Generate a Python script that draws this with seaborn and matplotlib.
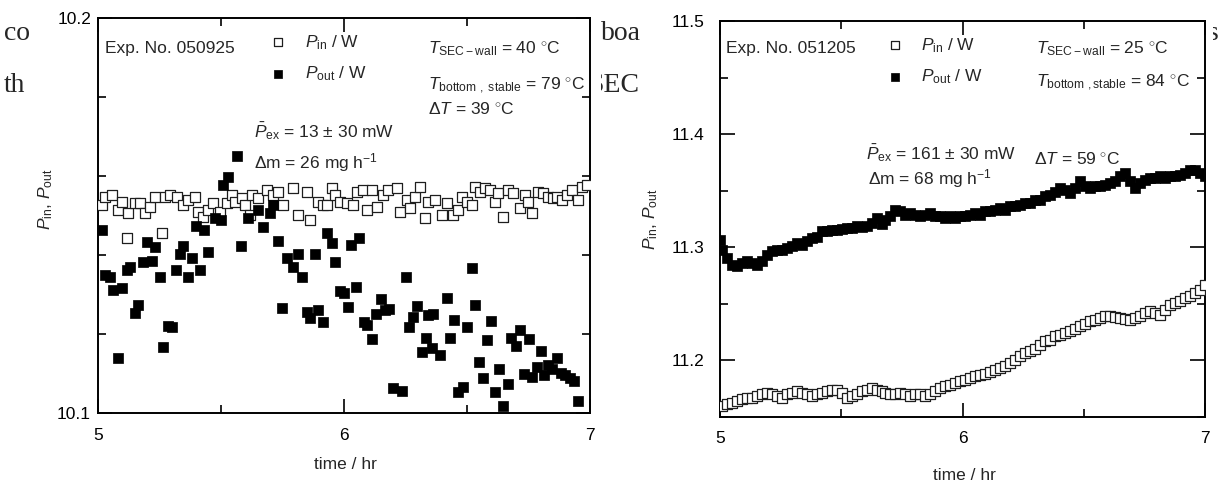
import matplotlib
matplotlib.use("Agg")

import matplotlib.pyplot as plt
import seaborn as sns
from matplotlib.ticker import MultipleLocator, FormatStrFormatter
from matplotlib.transforms import Bbox

# -------------------------
# DATA : Exp. No. 050925 (left)
# -------------------------
t_in_a = [5.015, 5.028, 5.056, 5.083, 5.096, 5.117, 5.123, 5.150, 5.171, 5.191,
          5.211, 5.232, 5.260, 5.272, 5.293, 5.320, 5.347, 5.367, 5.394, 5.408,
          5.428, 5.448, 5.469, 5.496, 5.523, 5.543, 5.557, 5.584, 5.598, 5.618,
          5.625, 5.652, 5.686, 5.713, 5.733, 5.753, 5.794, 5.814, 5.848, 5.862,
          5.896, 5.916, 5.930, 5.950, 5.963, 5.984, 6.011, 6.038, 6.052, 6.079,
          6.093, 6.113, 6.133, 6.160, 6.180, 6.214, 6.228, 6.255, 6.268, 6.289,
          6.309, 6.329, 6.343, 6.370, 6.397, 6.417, 6.444, 6.465, 6.478, 6.499,
          6.519, 6.533, 6.553, 6.573, 6.593, 6.614, 6.627, 6.648, 6.668, 6.688,
          6.715, 6.736, 6.749, 6.763, 6.790, 6.810, 6.830, 6.851, 6.865, 6.885,
          6.905, 6.926, 6.953, 6.967, 6.988]
p_in_a = [10.1527, 10.1548, 10.1552, 10.1514, 10.1535, 10.1442, 10.1507, 10.1531, 10.1531, 10.1506,
          10.1521, 10.1548, 10.1455, 10.1548, 10.1552, 10.1548, 10.1527, 10.1539, 10.1548, 10.1510,
          10.1497, 10.1514, 10.1531, 10.1510, 10.1531, 10.1552, 10.1535, 10.1544, 10.1527, 10.1501,
          10.1552, 10.1544, 10.1565, 10.1552, 10.1560, 10.1527, 10.1569, 10.1501, 10.1560, 10.1489,
          10.1535, 10.1527, 10.1527, 10.1569, 10.1552, 10.1535, 10.1531, 10.1527, 10.1560, 10.1565,
          10.1514, 10.1565, 10.1522, 10.1552, 10.1565, 10.1569, 10.1510, 10.1539, 10.1518, 10.1548,
          10.1573, 10.1493, 10.1535, 10.1539, 10.1501, 10.1531, 10.1501, 10.1514, 10.1548, 10.1535,
          10.1527, 10.1573, 10.1560, 10.1569, 10.1565, 10.1535, 10.1556, 10.1497, 10.1565, 10.1556,
          10.1518, 10.1552, 10.1535, 10.1506, 10.1560, 10.1556, 10.1548, 10.1544, 10.1548, 10.1539,
          10.1552, 10.1565, 10.1539, 10.1573, 10.1577]

t_out_a = [5.015, 5.028, 5.049, 5.062, 5.083, 5.096, 5.117, 5.130, 5.150, 5.163,
           5.183, 5.198, 5.218, 5.232, 5.252, 5.265, 5.283, 5.302, 5.316, 5.333,
           5.347, 5.365, 5.381, 5.397, 5.415, 5.431, 5.448, 5.476, 5.500, 5.509,
           5.530, 5.564, 5.581, 5.611, 5.652, 5.672, 5.699, 5.713, 5.733, 5.749,
           5.767, 5.794, 5.814, 5.830, 5.848, 5.862, 5.882, 5.896, 5.916, 5.930,
           5.950, 5.963, 5.984, 6.000, 6.017, 6.028, 6.049, 6.062, 6.081, 6.095,
           6.115, 6.130, 6.149, 6.167, 6.184, 6.198, 6.235, 6.251, 6.264, 6.282,
           6.296, 6.318, 6.332, 6.343, 6.357, 6.363, 6.390, 6.417, 6.431, 6.448,
           6.465, 6.485, 6.499, 6.519, 6.533, 6.549, 6.564, 6.580, 6.596, 6.614,
           6.630, 6.648, 6.665, 6.679, 6.698, 6.715, 6.733, 6.752, 6.765, 6.783,
           6.800, 6.814, 6.830, 6.847, 6.865, 6.882, 6.898, 6.919, 6.935, 6.950]
p_out_a = [10.1463, 10.1349, 10.1345, 10.1311, 10.1139, 10.1316, 10.1362, 10.1370, 10.1253, 10.1273,
           10.1382, 10.1434, 10.1385, 10.1421, 10.1344, 10.1168, 10.1221, 10.1217, 10.1362, 10.1402,
           10.1424, 10.1344, 10.1393, 10.1474, 10.1362, 10.1463, 10.1408, 10.1493, 10.1489, 10.1577,
           10.1598, 10.1651, 10.1423, 10.1493, 10.1514, 10.1470, 10.1506, 10.1527, 10.1436, 10.1265,
           10.1393, 10.1370, 10.1403, 10.1345, 10.1256, 10.1240, 10.1403, 10.1261, 10.1231, 10.1455,
           10.1431, 10.1382, 10.1309, 10.1303, 10.1269, 10.1425, 10.1320, 10.1444, 10.1230, 10.1223,
           10.1187, 10.1251, 10.1288, 10.1261, 10.1263, 10.1063, 10.1056, 10.1345, 10.1217, 10.1242,
           10.1271, 10.1155, 10.1189, 10.1248, 10.1164, 10.1251, 10.1147, 10.1290, 10.1189, 10.1235,
           10.1054, 10.1067, 10.1217, 10.1366, 10.1273, 10.1130, 10.1089, 10.1185, 10.1233, 10.1052,
           10.1111, 10.1018, 10.1073, 10.1189, 10.1170, 10.1210, 10.1099, 10.1187, 10.1092, 10.1116,
           10.1158, 10.1096, 10.1122, 10.1111, 10.1139, 10.1102, 10.1096, 10.1088, 10.1082, 10.1031]

# -------------------------
# DATA : Exp. No. 051205 (right)
# -------------------------
t_in_b = [5.007, 5.027, 5.048, 5.069, 5.089, 5.110, 5.131, 5.151, 5.172, 5.193,
          5.213, 5.234, 5.254, 5.275, 5.296, 5.316, 5.337, 5.357, 5.378, 5.399,
          5.419, 5.440, 5.461, 5.481, 5.502, 5.522, 5.543, 5.564, 5.584, 5.605,
          5.626, 5.646, 5.667, 5.680, 5.701, 5.722, 5.742, 5.763, 5.784, 5.804,
          5.825, 5.845, 5.866, 5.887, 5.907, 5.928, 5.948, 5.969, 5.990, 6.010,
          6.031, 6.052, 6.072, 6.093, 6.113, 6.134, 6.155, 6.175, 6.196, 6.216,
          6.237, 6.258, 6.278, 6.299, 6.320, 6.340, 6.361, 6.381, 6.402, 6.423,
          6.443, 6.464, 6.485, 6.505, 6.526, 6.546, 6.567, 6.588, 6.608, 6.629,
          6.649, 6.670, 6.691, 6.711, 6.732, 6.753, 6.773, 6.794, 6.814, 6.835,
          6.856, 6.876, 6.897, 6.918, 6.938, 6.959, 6.979, 7.000]
p_in_b = [11.1596, 11.1611, 11.1626, 11.1640, 11.1655, 11.1670, 11.1670, 11.1684, 11.1699, 11.1714,
          11.1699, 11.1684, 11.1670, 11.1699, 11.1714, 11.1728, 11.1714, 11.1699, 11.1684, 11.1699,
          11.1714, 11.1728, 11.1743, 11.1743, 11.1714, 11.1670, 11.1684, 11.1699, 11.1728, 11.1743,
          11.1758, 11.1743, 11.1728, 11.1714, 11.1699, 11.1699, 11.1714, 11.1699, 11.1684, 11.1699,
          11.1699, 11.1684, 11.1699, 11.1728, 11.1758, 11.1772, 11.1787, 11.1802, 11.1816, 11.1831,
          11.1846, 11.1861, 11.1867, 11.1876, 11.1896, 11.1914, 11.1935, 11.1955, 11.1979, 11.2008,
          11.2037, 11.2067, 11.2081, 11.2102, 11.2140, 11.2169, 11.2184, 11.2214, 11.2229, 11.2244,
          11.2258, 11.2279, 11.2302, 11.2326, 11.2346, 11.2361, 11.2376, 11.2390, 11.2390, 11.2385,
          11.2376, 11.2367, 11.2355, 11.2376, 11.2390, 11.2420, 11.2434, 11.2420, 11.2405, 11.2449,
          11.2493, 11.2508, 11.2523, 11.2553, 11.2567, 11.2597, 11.2626, 11.2670]

t_out_b = [5.000, 5.007, 5.027, 5.048, 5.069, 5.089, 5.110, 5.131, 5.151, 5.172,
           5.193, 5.213, 5.234, 5.254, 5.275, 5.296, 5.316, 5.337, 5.357, 5.378,
           5.399, 5.419, 5.440, 5.461, 5.481, 5.502, 5.522, 5.543, 5.564, 5.584,
           5.605, 5.626, 5.646, 5.667, 5.680, 5.701, 5.722, 5.742, 5.763, 5.784,
           5.804, 5.825, 5.845, 5.866, 5.887, 5.907, 5.928, 5.948, 5.969, 5.990,
           6.010, 6.031, 6.052, 6.072, 6.093, 6.113, 6.134, 6.155, 6.175, 6.196,
           6.216, 6.237, 6.258, 6.278, 6.299, 6.320, 6.340, 6.361, 6.381, 6.402,
           6.423, 6.443, 6.464, 6.485, 6.505, 6.526, 6.546, 6.567, 6.588, 6.608,
           6.629, 6.649, 6.670, 6.691, 6.711, 6.732, 6.753, 6.773, 6.794, 6.814,
           6.835, 6.856, 6.876, 6.897, 6.918, 6.938, 6.959, 6.979, 7.000]
p_out_b = [11.3067, 11.2979, 11.2905, 11.2846, 11.2832, 11.2861, 11.2876, 11.2861, 11.2846, 11.2876,
           11.2935, 11.2964, 11.2979, 11.2979, 11.2994, 11.3008, 11.3038, 11.3023, 11.3052, 11.3082,
           11.3091, 11.3140, 11.3140, 11.3155, 11.3155, 11.3164, 11.3170, 11.3170, 11.3191, 11.3179,
           11.3191, 11.3214, 11.3259, 11.3208, 11.3244, 11.3273, 11.3332, 11.3317, 11.3288, 11.3303,
           11.3288, 11.3273, 11.3288, 11.3303, 11.3273, 11.3273, 11.3259, 11.3273, 11.3259, 11.3273,
           11.3273, 11.3288, 11.3303, 11.3288, 11.3317, 11.3317, 11.3332, 11.3347, 11.3332, 11.3361,
           11.3361, 11.3376, 11.3391, 11.3391, 11.3420, 11.3420, 11.3449, 11.3464, 11.3493, 11.3523,
           11.3508, 11.3479, 11.3523, 11.3582, 11.3538, 11.3523, 11.3538, 11.3538, 11.3553, 11.3568,
           11.3582, 11.3626, 11.3656, 11.3582, 11.3523, 11.3568, 11.3597, 11.3612, 11.3612, 11.3626,
           11.3612, 11.3626, 11.3626, 11.3641, 11.3656, 11.3685, 11.3685, 11.3656, 11.3626]

W, H = 1224, 493

sns.set_style("ticks")
plt.rcParams["font.family"] = ["Liberation Sans", "DejaVu Sans"]
plt.rcParams["mathtext.fontset"] = "custom"
plt.rcParams["mathtext.rm"] = "Liberation Sans"
plt.rcParams["mathtext.it"] = "Liberation Sans:italic"
plt.rcParams["mathtext.bf"] = "Liberation Sans:bold"

fig = plt.figure(figsize=(W / 100, H / 100), dpi=100)
fig.patch.set_facecolor("white")


def frag(x, y, s, x_from=None, x_to=None):
    # bits of the page text that peek out round the figures
    t = fig.text(x / W, 1 - y / H, s, family="Liberation Serif",
                 fontsize=20, va="baseline", ha="left")
    if x_from is not None:
        t.set_clip_box(Bbox.from_extents(x_from, 0, x_to, H))
        t.set_clip_on(True)


frag(4, 40, "co")
frag(4, 92, "th")
frag(601, 40, "boa", 601, 640)
frag(588, 92, "SEC", 601, 640)
frag(1208, 40, "s", 1213, 1224)

ax1 = fig.add_axes([98 / W, 1 - 413 / H, 492 / W, 395 / H])
ax2 = fig.add_axes([720 / W, 1 - 417 / H, 485 / W, 396 / H])


def style_axes(ax, ylim, yminor, ymajor_len, ypad, xpad):
    ax.set_xlim(5, 7)
    ax.set_ylim(*ylim)
    ax.xaxis.set_major_locator(MultipleLocator(1))
    ax.xaxis.set_minor_locator(MultipleLocator(0.5))
    ax.yaxis.set_major_locator(MultipleLocator(0.1))
    ax.yaxis.set_minor_locator(MultipleLocator(yminor))
    ax.xaxis.set_major_formatter(FormatStrFormatter("%d"))
    ax.yaxis.set_major_formatter(FormatStrFormatter("%.1f"))
    ax.tick_params(which="both", direction="in", top=True, right=True,
                   width=1.2, color="black", labelsize=12.5, labelcolor="black")
    ax.tick_params(axis="x", which="major", length=10, pad=xpad)
    ax.tick_params(axis="y", which="major", length=ymajor_len, pad=ypad)
    ax.tick_params(which="minor", length=5.5)
    for sp in ax.spines.values():
        sp.set_visible(True)
        sp.set_linewidth(1.4)
        sp.set_color("black")


def draw_panel(ax, t_in, p_in, t_out, p_out):
    sns.scatterplot(x=t_in, y=p_in, ax=ax, marker="s", s=56, color="white",
                    edgecolor="#1e1e1e", linewidth=0.9, legend=False, zorder=3)
    sns.scatterplot(x=t_out, y=p_out, ax=ax, marker="s", s=56, color="black",
                    edgecolor="black", linewidth=0.5, legend=False, zorder=4)
    h_in, h_out = ax.collections[0], ax.collections[1]
    return h_in, h_out


def add_legend(ax, h_in, h_out, x_anchor, y_anchor):
    ax.legend([h_in, h_out], [r"$P_{\rm in}$ / W", r"$P_{\rm out}$ / W"],
              loc="upper left", bbox_to_anchor=(x_anchor, y_anchor),
              frameon=False, fontsize=12.5, handlelength=1.0,
              handletextpad=1.05, labelspacing=0.72, borderpad=0,
              borderaxespad=0, markerscale=0.85)


def note(ax, x, y, s):
    ax.text(x, y, s, transform=ax.transAxes, fontsize=12.5,
            va="center", ha="left")


# ---------------- left ----------------
h1, h2 = draw_panel(ax1, t_in_a, p_in_a, t_out_a, p_out_a)
style_axes(ax1, (10.1, 10.2), 0.02, 10, 5, 11)
ax1.set_ylabel(r"$P_{\rm in}$, $P_{\rm out}$", fontsize=12.5)
ax1.yaxis.set_label_coords(-0.087, 0.54)
ax1.set_xlabel("time / hr", fontsize=12.5)
ax1.xaxis.set_label_coords(0.502, -0.112)
add_legend(ax1, h1, h2, 0.348, 0.962)

note(ax1, 0.014, 0.924, "Exp. No. 050925")
note(ax1, 0.671, 0.922, r"$T_{\rm SEC-wall}$ = 40 $^{\circ}$C")
note(ax1, 0.671, 0.828, r"$T_{\rm bottom\ ,\ stable}$ = 79 $^{\circ}$C")
note(ax1, 0.671, 0.770, r"Δ$T$ = 39 $^{\circ}$C")
note(ax1, 0.317, 0.714, r"$\bar{P}_{\rm ex}$ = 13 ± 30 mW")
note(ax1, 0.317, 0.633, r"Δm = 26 mg h$^{-1}$")

# ---------------- right ----------------
h3, h4 = draw_panel(ax2, t_in_b, p_in_b, t_out_b, p_out_b)
style_axes(ax2, (11.15, 11.5), 0.05, 11, 11, 10)
ax2.set_ylabel(r"$P_{\rm in}$, $P_{\rm out}$", fontsize=12.5)
ax2.yaxis.set_label_coords(-0.124, 0.5)
ax2.set_xlabel("time / hr", fontsize=12.5)
ax2.xaxis.set_label_coords(0.505, -0.128)
add_legend(ax2, h3, h4, 0.342, 0.962)

note(ax2, 0.012, 0.931, "Exp. No. 051205")
note(ax2, 0.652, 0.929, r"$T_{\rm SEC-wall}$ = 25 $^{\circ}$C")
note(ax2, 0.652, 0.843, r"$T_{\rm bottom\ ,stable}$ = 84 $^{\circ}$C")
note(ax2, 0.301, 0.667, r"$\bar{P}_{\rm ex}$ = 161 ± 30 mW")
note(ax2, 0.647, 0.652, r"Δ$T$ = 59 $^{\circ}$C")
note(ax2, 0.305, 0.602, r"Δm = 68 mg h$^{-1}$")

fig.savefig("out.png", dpi=100, facecolor="white")
plt.close(fig)
